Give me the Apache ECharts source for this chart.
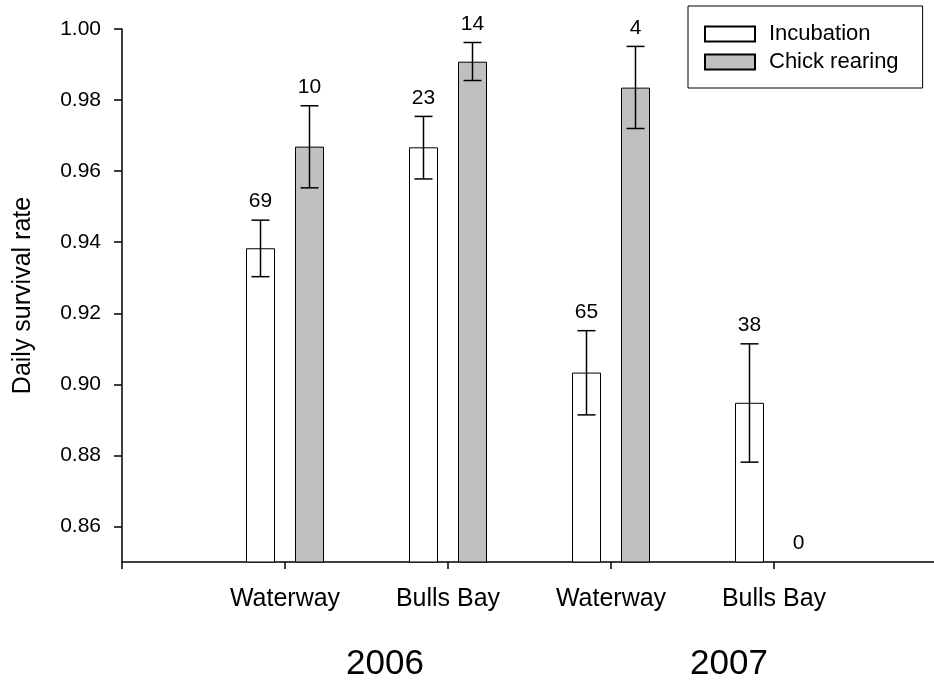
<!DOCTYPE html>
<html>
<head>
<meta charset="utf-8">
<script src="https://cdn.jsdelivr.net/npm/echarts@6/dist/echarts.min.js"></script>
<style>
html,body{margin:0;padding:0;background:#fff;}
#chart{width:934px;height:683px;}
</style>
</head>
<body>
<div id="chart"></div>
<script>
// ---- data ----
const categories = ['', 'Waterway', 'Bulls Bay', 'Waterway', 'Bulls Bay', ''];
const incubation     = [null, 0.9383, 0.9667, 0.9033, 0.8948, null];
const incubationLow  = [null, 0.9303, 0.9578, 0.8914, 0.8781, null];
const incubationHigh = [null, 0.9462, 0.9754, 0.9151, 0.9114, null];
const incubationN    = [null, 69, 23, 65, 38, null];
const chick     = [null, 0.9669, 0.9908, 0.9835, null, null];
const chickLow  = [null, 0.9553, 0.9855, 0.9720, null, null];
const chickHigh = [null, 0.9784, 0.9962, 0.9951, null, null];
const chickN    = [null, 10, 14, 4, 0, null];
const yTicks = [0.86, 0.88, 0.90, 0.92, 0.94, 0.96, 0.98, 1.00];
const years = ['2006', '2007'];

const FONT = '"Liberation Sans", Arial, Helvetica, sans-serif';
const BAR_W = 29, BAR_GAP = 20, CAP = 9;
const Y_MIN = 0.85, Y_MAX = 1.00;

function errData(low, high, n) {
  const out = [];
  for (let i = 0; i < categories.length; i++) {
    if (n[i] === null) continue;
    out.push([i, low[i] === null ? NaN : low[i], high[i] === null ? NaN : high[i], n[i]]);
  }
  return out;
}

function makeErr(side) {
  return function (params, api) {
    const cat = api.value(0), lo = api.value(1), hi = api.value(2), n = api.value(3);
    const dx = side * (BAR_W + BAR_GAP) / 2;
    const children = [];
    let labelPt;
    if (isFinite(lo) && isFinite(hi)) {
      const pLo = api.coord([cat, lo]), pHi = api.coord([cat, hi]);
      const x = pLo[0] + dx;
      const st = { stroke: '#000', lineWidth: 1.5 };
      children.push({ type: 'line', shape: { x1: x, y1: pLo[1], x2: x, y2: pHi[1] }, style: st });
      children.push({ type: 'line', shape: { x1: x - CAP, y1: pLo[1], x2: x + CAP, y2: pLo[1] }, style: st });
      children.push({ type: 'line', shape: { x1: x - CAP, y1: pHi[1], x2: x + CAP, y2: pHi[1] }, style: st });
      labelPt = [x, pHi[1]];
    } else {
      const p = api.coord([cat, Y_MIN]);
      labelPt = [p[0] + dx, p[1]];
    }
    children.push({
      type: 'text',
      x: labelPt[0], y: labelPt[1] - 8,
      style: { text: String(n), fill: '#000', font: '21px ' + FONT, align: 'center', verticalAlign: 'bottom' }
    });
    return { type: 'group', children: children };
  };
}

const chart = echarts.init(document.getElementById('chart'), null, { renderer: 'canvas' });
chart.setOption({
  backgroundColor: '#fff',
  animation: false,
  textStyle: { fontFamily: FONT, color: '#000' },
  grid: { left: 122, top: 29, width: 815, height: 533, containLabel: false, outerBoundsMode: 'none' },
  legend: {
    data: ['Incubation', 'Chick rearing'],
    orient: 'vertical',
    left: 688, top: 6,
    padding: [17, 24, 15, 16],
    itemGap: 6,
    itemWidth: 50, itemHeight: 15,
    icon: 'rect',
    borderColor: '#000', borderWidth: 1,
    textStyle: { fontFamily: FONT, fontSize: 22, color: '#000', padding: [0, 0, 0, 9] },
    selectedMode: false
  },
  xAxis: {
    type: 'category',
    data: categories,
    boundaryGap: false,
    axisLine: { lineStyle: { color: '#000', width: 1.5 } },
    axisTick: { show: true, inside: false, length: 7, interval: 0, lineStyle: { color: '#000', width: 1.5 } },
    axisLabel: { interval: 0, margin: 25, fontSize: 25, color: '#000', fontFamily: FONT },
    splitLine: { show: false }
  },
  yAxis: {
    type: 'value',
    min: Y_MIN, max: Y_MAX,
    name: 'Daily survival rate',
    nameLocation: 'middle',
    nameGap: 86,
    nameTextStyle: { fontSize: 25, color: '#000', fontFamily: FONT },
    axisLine: { show: true, lineStyle: { color: '#000', width: 1.5 } },
    axisTick: { show: true, length: 8, customValues: yTicks, lineStyle: { color: '#000', width: 1.5 } },
    axisLabel: { margin: 21, fontSize: 21, color: '#000', fontFamily: FONT, customValues: yTicks,
      formatter: function (v) { return Number(v).toFixed(2); } },
    splitLine: { show: false }
  },
  graphic: [
    { type: 'text', x: 385, y: 664, style: { text: years[0], font: '35px ' + FONT, fill: '#000', align: 'center', verticalAlign: 'middle' } },
    { type: 'text', x: 729, y: 664, style: { text: years[1], font: '35px ' + FONT, fill: '#000', align: 'center', verticalAlign: 'middle' } }
  ],
  series: [
    {
      name: 'Incubation', type: 'bar', data: incubation,
      barWidth: BAR_W, barGap: (BAR_GAP / BAR_W * 100) + '%',
      itemStyle: { color: '#fff', borderColor: '#000', borderWidth: 1 },
      z: 2
    },
    {
      name: 'Chick rearing', type: 'bar', data: chick,
      barWidth: BAR_W,
      itemStyle: { color: '#c0c0c0', borderColor: '#000', borderWidth: 1 },
      z: 2
    },
    {
      type: 'custom', name: 'errInc', silent: true, z: 5,
      renderItem: makeErr(-1),
      encode: { x: 0, y: [1, 2] },
      data: errData(incubationLow, incubationHigh, incubationN)
    },
    {
      type: 'custom', name: 'errChick', silent: true, z: 5,
      renderItem: makeErr(1),
      encode: { x: 0, y: [1, 2] },
      data: errData(chickLow, chickHigh, chickN)
    }
  ]
});
</script>
</body>
</html>
